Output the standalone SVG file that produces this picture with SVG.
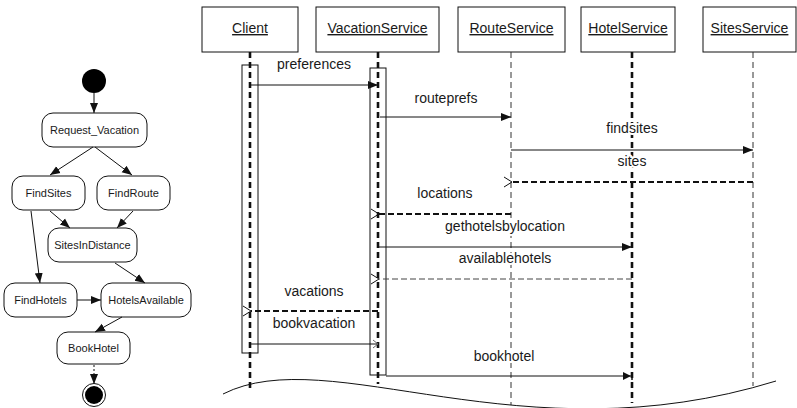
<svg xmlns="http://www.w3.org/2000/svg" width="797" height="408" viewBox="0 0 797 408">
  <style>
    text { font-family: "Liberation Sans", Arial, sans-serif; fill: #1a1a1a; }
    .act rect { fill: #fff; stroke: #111; stroke-width: 1; }
    .act text { font-size: 11px; text-anchor: middle; }
    .head rect { fill: #fff; stroke: #111; stroke-width: 1; }
    .head text { font-size: 14px; text-anchor: middle; text-decoration: underline; }
    .flow { stroke: #111; stroke-width: 1; fill: none; marker-end: url(#tri); }
    .life { fill: none; stroke: #111; stroke-dasharray: 6 4; }
    .life.bold { stroke-width: 2.6; }
    .life.thin { stroke-width: 1; stroke: #333; }
    .bar { fill: none; stroke: #111; stroke-width: 1; }
    .call { stroke: #111; stroke-width: 1; fill: none; marker-end: url(#tri); }
    .ret { stroke: #111; stroke-width: 2; stroke-dasharray: 6 3; fill: none; marker-end: url(#open); }
    .ret.thin { stroke-width: 1; stroke: #444; stroke-dasharray: 6 3; }
    .msg { font-size: 14px; text-anchor: middle; paint-order: stroke; stroke: #fff; stroke-width: 4px; stroke-linejoin: round; }
  </style>
  <defs>
    <marker id="tri" markerUnits="userSpaceOnUse" markerWidth="10" markerHeight="10" viewBox="0 0 10 10" refX="10" refY="5" orient="auto">
      <path d="M0,1 L10,5 L0,9 z" fill="#111"/>
    </marker>
    <marker id="open" markerUnits="userSpaceOnUse" markerWidth="12" markerHeight="12" viewBox="0 0 12 12" refX="1" refY="6" orient="auto">
      <path d="M9,1 L1,6 L9,11" fill="none" stroke="#111" stroke-width="1"/>
    </marker>
    <marker id="openSmall" markerUnits="userSpaceOnUse" markerWidth="10" markerHeight="10" viewBox="0 0 10 10" refX="9" refY="5" orient="auto">
      <path d="M4,1 L9,5 L4,9" fill="none" stroke="#666" stroke-width="1"/>
    </marker>
    <marker id="triBar" markerUnits="userSpaceOnUse" markerWidth="12" markerHeight="12" viewBox="0 0 12 12" refX="11" refY="6" orient="auto">
      <path d="M2,2 L10,6 L2,10 z" fill="#111"/>
      <path d="M11,2 L11,10" stroke="#111" stroke-width="1.5"/>
    </marker>
  </defs>

  <!-- Activity diagram -->
  <g id="initial"><circle cx="94" cy="81" r="12" fill="#000"/></g>
  <g id="request_vacation" class="act"><rect x="42" y="113" width="105" height="34" rx="11"/><text x="94.5" y="134">Request_Vacation</text></g>
  <g id="findsites" class="act"><rect x="12" y="176" width="73" height="34" rx="11"/><text x="48.5" y="197">FindSites</text></g>
  <g id="findroute" class="act"><rect x="97" y="176" width="73" height="34" rx="11"/><text x="133.5" y="197">FindRoute</text></g>
  <g id="sitesindistance" class="act"><rect x="48" y="228" width="89" height="34" rx="11"/><text x="92.5" y="249">SitesInDistance</text></g>
  <g id="findhotels" class="act"><rect x="4" y="283" width="73" height="34" rx="11"/><text x="40.5" y="304">FindHotels</text></g>
  <g id="hotelsavailable" class="act"><rect x="101" y="283" width="90" height="34" rx="11"/><text x="146" y="304">HotelsAvailable</text></g>
  <g id="bookhotel" class="act"><rect x="57" y="332" width="73" height="32" rx="11"/><text x="93.5" y="352">BookHotel</text></g>
  <g id="final"><circle cx="94" cy="395" r="11.5" fill="#fff" stroke="#111" stroke-width="1"/><circle cx="94" cy="395" r="9" fill="#000"/></g>

  <g id="flows">
    <line class="flow" x1="94" y1="93" x2="94" y2="113"/>
    <line class="flow" x1="93" y1="147" x2="50" y2="175"/>
    <line class="flow" x1="95" y1="147" x2="132" y2="175"/>
    <line class="flow" x1="50" y1="211" x2="70" y2="228"/>
    <line class="flow" x1="133" y1="211" x2="117" y2="228"/>
    <line class="flow" x1="31" y1="211" x2="40" y2="283"/>
    <line class="flow" x1="77" y1="300" x2="101" y2="300"/>
    <line class="flow" x1="115" y1="263" x2="145" y2="283"/>
    <line class="flow" x1="122" y1="317" x2="95" y2="332"/>
    <line class="flow" x1="94" y1="365" x2="94" y2="384" stroke-dasharray="2 2"/>
  </g>

  <!-- Sequence diagram: lifeline heads -->
  <g id="client" class="head"><rect x="202" y="7" width="96" height="45"/><text x="250" y="33">Client</text></g>
  <g id="vacationservice" class="head"><rect x="316" y="7" width="123" height="45"/><text x="377.5" y="33">VacationService</text></g>
  <g id="routeservice" class="head"><rect x="458" y="7" width="107" height="45"/><text x="511.5" y="33">RouteService</text></g>
  <g id="hotelservice" class="head"><rect x="581" y="7" width="94" height="45"/><text x="628" y="33">HotelService</text></g>
  <g id="sitesservice" class="head"><rect x="703" y="7" width="93" height="45"/><text x="749.5" y="33">SitesService</text></g>

  <!-- lifelines and activation bars -->
  <g id="lifelines">
    <rect class="bar" x="242" y="65" width="16" height="288"/>
    <rect class="bar" x="370" y="68" width="16" height="307"/>
    <line class="life bold" x1="250" y1="52" x2="250" y2="388"/>
    <line class="life bold" x1="378" y1="52" x2="378" y2="384"/>
    <line class="life thin" x1="511" y1="52" x2="511" y2="405"/>
    <line class="life bold" x1="632" y1="52" x2="632" y2="403"/>
    <line class="life thin" x1="753" y1="52" x2="753" y2="386"/>
  </g>

  <!-- messages -->
  <g id="messages">
    <line class="call" x1="250" y1="85" x2="378" y2="85"/>
    <line class="call" x1="380" y1="117" x2="511" y2="117"/>
    <line class="call" x1="511" y1="150" x2="753" y2="150"/>
    <line class="ret" x1="753" y1="182" x2="512" y2="182"/>
    <line class="ret" x1="511" y1="214" x2="379" y2="214"/>
    <line class="call" x1="378" y1="247" x2="632" y2="247"/>
    <line class="ret thin" x1="632" y1="279" x2="379" y2="279"/>
    <line class="ret" x1="378" y1="311" x2="251" y2="311"/>
    <line x1="250" y1="344" x2="378" y2="344" stroke="#111" stroke-width="1" marker-end="url(#openSmall)"/>
    <line x1="386" y1="376" x2="632" y2="376" stroke="#111" stroke-width="1" marker-end="url(#triBar)"/>
  </g>

  <g id="labels">
    <text class="msg" x="314" y="69">preferences</text>
    <text class="msg" x="446" y="103">routeprefs</text>
    <text class="msg" x="632" y="133">findsites</text>
    <text class="msg" x="632" y="166">sites</text>
    <text class="msg" x="445" y="198">locations</text>
    <text class="msg" x="505" y="231">gethotelsbylocation</text>
    <text class="msg" x="505" y="263">availablehotels</text>
    <text class="msg" x="314" y="296">vacations</text>
    <text class="msg" x="314" y="328">bookvacation</text>
    <text class="msg" x="504" y="361">bookhotel</text>
  </g>

  <!-- torn-off bottom edge -->
  <path d="M223,394 C330,340 520,460 776,381" fill="none" stroke="#111" stroke-width="1"/>
</svg>
